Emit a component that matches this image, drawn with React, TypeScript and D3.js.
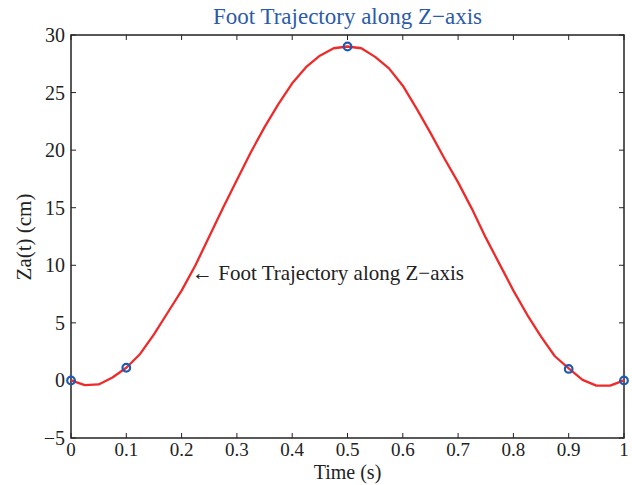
import React from "react";
import * as d3 from "d3";

const times = [0, 0.025, 0.05, 0.075, 0.1, 0.125, 0.15, 0.175, 0.2, 0.225, 0.25, 0.275, 0.3, 0.325, 0.35, 0.375, 0.4, 0.425, 0.45, 0.475, 0.5, 0.525, 0.55, 0.575, 0.6, 0.625, 0.65, 0.675, 0.7, 0.725, 0.75, 0.775, 0.8, 0.825, 0.85, 0.875, 0.9, 0.925, 0.95, 0.975, 1.0];
const za = [0, -0.4, -0.35, 0.25, 1.1, 2.3, 4.0, 5.9, 7.8, 10.0, 12.5, 15.0, 17.4, 19.8, 22.0, 24.0, 25.8, 27.2, 28.2, 28.85, 29.0, 28.85, 28.1, 27.1, 25.6, 23.6, 21.5, 19.3, 17.2, 14.9, 12.4, 10.1, 7.8, 5.7, 3.8, 2.1, 1.05, 0.05, -0.45, -0.45, 0];
const markerT = [0, 0.1, 0.5, 0.9, 1.0];
const markerZ = [0, 1.1, 29, 1.0, 0];
const xTicks = [0, 0.1, 0.2, 0.3, 0.4, 0.5, 0.6, 0.7, 0.8, 0.9, 1];
const yTicks = [-5, 0, 5, 10, 15, 20, 25, 30];
const title = "Foot Trajectory along Z\u2212axis";
const annotation = "\u2190 Foot Trajectory along Z\u2212axis";
const xLabel = "Time (s)";
const yLabel = "Za(t) (cm)";

const W = 632, H = 485;
const L = 71, R = 624, T = 35, B = 438;
const FONT = "'Liberation Serif', 'DejaVu Serif', serif";

export default function App() {
  const x = d3.scaleLinear().domain([0, 1]).range([L, R]);
  const y = d3.scaleLinear().domain([-5, 30]).range([B, T]);
  const line = d3.line<number>().x((_, i) => x(times[i])).y((d) => y(d));
  const tk = 5;
  const fmtX = (v: number) => (v === 0 || v === 1 ? String(v) : v.toFixed(1));
  const fmtY = (v: number) => (v < 0 ? "\u2212" + Math.abs(v) : String(v));
  return (
    <svg width={W} height={H} style={{ position: "absolute", left: 0, top: 0, background: "#fff" }} fontFamily={FONT}>
      <rect x={0} y={0} width={W} height={H} fill="#fff" />
      <text x={(L + R) / 2} y={24} textAnchor="middle" fontSize={23} fill="#2b5ba8">{title}</text>
      {xTicks.map((t) => (
        <g key={"x" + t}>
          <line x1={x(t)} x2={x(t)} y1={B} y2={B - tk} stroke="#222" strokeWidth={1} />
          <line x1={x(t)} x2={x(t)} y1={T} y2={T + tk} stroke="#222" strokeWidth={1} />
          <text x={x(t)} y={456} textAnchor="middle" fontSize={19} fill="#222">{fmtX(t)}</text>
        </g>
      ))}
      {yTicks.map((v) => (
        <g key={"y" + v}>
          <line x1={L} x2={L + tk} y1={y(v)} y2={y(v)} stroke="#222" strokeWidth={1} />
          <line x1={R} x2={R - tk} y1={y(v)} y2={y(v)} stroke="#222" strokeWidth={1} />
          <text x={L - 6} y={y(v) + 7} textAnchor="end" fontSize={20} fill="#222">{fmtY(v)}</text>
        </g>
      ))}
      <rect x={L} y={T} width={R - L} height={B - T} fill="none" stroke="#222" strokeWidth={1.5} />
      <path d={line(za) || ""} fill="none" stroke="#ee2a2a" strokeWidth={2.3} strokeLinejoin="round" />
      {markerT.map((t, i) => (
        <circle key={"m" + i} cx={x(t)} cy={y(markerZ[i])} r={3.8} fill="none" stroke="#1f5bb0" strokeWidth={2.2} />
      ))}
      <text x={192} y={280} fontSize={21} fill="#222">{annotation}</text>
      <text x={(L + R) / 2} y={479} textAnchor="middle" fontSize={20} fill="#222">{xLabel}</text>
      <text transform={`translate(31,237) rotate(-90)`} textAnchor="middle" fontSize={21} fill="#222">{yLabel}</text>
    </svg>
  );
}
